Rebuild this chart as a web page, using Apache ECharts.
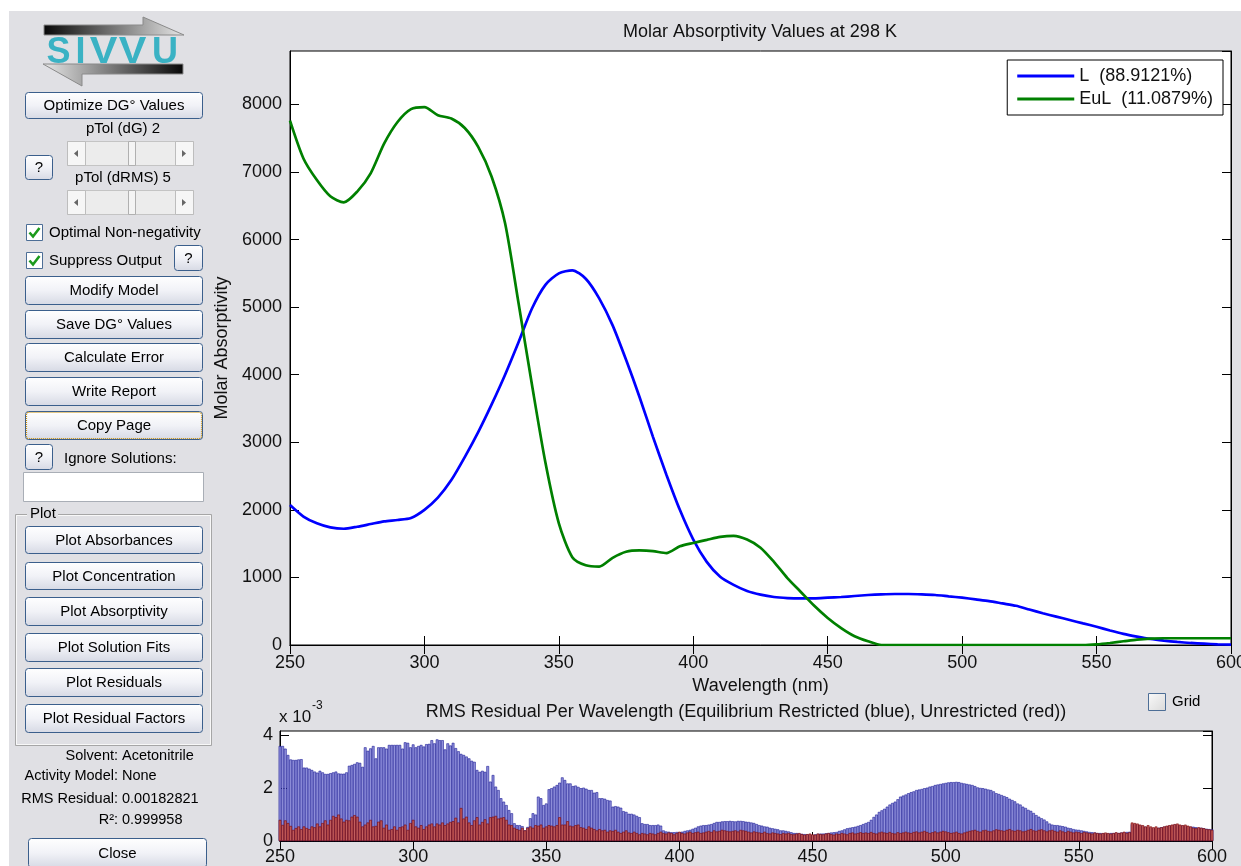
<!DOCTYPE html>
<html><head><meta charset="utf-8">
<script src="https://cdn.jsdelivr.net/npm/echarts@6/dist/echarts.min.js"></script>
<style>html,body{margin:0;padding:0;background:#fff}#c{width:1241px;height:866px}</style>
</head><body><div id="c"></div>
<script>
// ---------- DATA ----------
const lineStart = 250, lineStep = 5;          // wavelength grid of the absorptivity curves (nm)
const absL = [2070,1900,1800,1740,1720,1750,1790,1830,1850,1880,
  2000,2180,2440,2780,3150,3560,4000,4480,4980,5330,
  5500,5545,5420,5130,4730,4220,3670,3080,2520,2000,
  1560,1230,1010,890,800,745,710,695,690,690,
  700,710,725,740,750,755,755,750,740,720,
  700,675,650,615,580,525,470,420,370,320,
  270,215,165,125,90,65,45,30,20,10,5];
const absEuL = [7760,7200,6880,6640,6550,6710,6980,7420,7740,7930,
  7960,7840,7790,7650,7370,6930,6240,5060,3850,2700,
  1800,1300,1180,1160,1290,1380,1400,1390,1360,1460,
  1510,1555,1600,1615,1560,1440,1230,990,785,580,
  400,250,130,55,0,0,0,0,0,0,
  0,0,0,0,0,0,0,0,0,0,
  10,30,55,80,95,100,100,100,100,100,100];
const seriesNames = ['L  (88.9121%)', 'EuL  (11.0879%)'];

const residStart = 250, residStep = 1;        // wavelength grid of residual bars (nm)
// RMS residual, units of 10^-3
const residBlue = [
  3.6,3.6,3.5,3.26,3.09,3.07,3.07,3.09,3.1,2.78,
  2.78,2.74,2.69,2.63,2.59,2.66,2.6,2.54,2.54,2.57,
  2.6,2.63,2.56,2.55,2.55,2.6,2.85,2.88,2.92,2.98,
  2.96,2.81,3.55,3.42,3.51,3.6,3.13,3.55,3.55,3.55,
  3.5,3.64,3.64,3.64,3.64,3.64,3.5,3.74,3.72,3.55,
  3.66,3.55,3.6,3.64,3.58,3.67,3.68,3.82,3.7,3.85,
  3.82,3.82,3.47,3.7,3.62,3.72,3.52,3.4,3.3,3.26,
  3.2,3.13,3.04,3.0,2.69,2.62,2.66,2.62,2.84,2.25,
  2.5,2.06,1.93,1.62,1.49,1.36,1.17,1.05,0.67,0.6,
  0.6,0.56,0.4,0.53,0.86,1.05,1.0,1.68,1.62,1.36,
  1.42,1.96,2.0,2.06,2.12,2.21,2.41,2.31,2.18,2.18,
  2.08,2.1,2.05,2.0,2.02,1.98,1.93,1.93,1.83,1.85,
  1.62,1.62,1.6,1.55,1.53,1.3,1.32,1.3,1.26,1.13,
  1.1,1.03,1.03,1.0,0.95,0.9,0.67,0.64,0.64,0.6,
  0.6,0.6,0.62,0.58,0.4,0.36,0.35,0.33,0.33,0.34,
  0.33,0.35,0.38,0.4,0.42,0.46,0.5,0.55,0.58,0.6,
  0.6,0.62,0.64,0.68,0.72,0.72,0.74,0.75,0.75,0.76,
  0.75,0.74,0.76,0.76,0.75,0.73,0.72,0.7,0.68,0.64,
  0.6,0.58,0.55,0.54,0.5,0.48,0.46,0.44,0.4,0.4,
  0.38,0.36,0.33,0.3,0.3,0.28,0.27,0.26,0.25,0.24,
  0.22,0.25,0.27,0.28,0.28,0.29,0.3,0.32,0.33,0.34,
  0.38,0.4,0.44,0.48,0.5,0.52,0.54,0.57,0.6,0.64,
  0.68,0.72,0.8,0.91,1.0,1.1,1.16,1.22,1.3,1.38,
  1.44,1.49,1.58,1.68,1.72,1.76,1.81,1.85,1.88,1.93,
  1.95,1.97,2.0,2.02,2.06,2.08,2.12,2.14,2.16,2.18,
  2.2,2.22,2.23,2.23,2.24,2.23,2.2,2.18,2.16,2.14,
  2.12,2.08,2.03,2.01,2.0,1.98,1.95,1.93,1.88,1.81,
  1.78,1.74,1.7,1.66,1.6,1.55,1.5,1.42,1.38,1.3,
  1.25,1.18,1.14,1.06,0.98,0.92,0.86,0.81,0.74,0.66,
  0.62,0.6,0.6,0.58,0.56,0.54,0.5,0.48,0.45,0.43,
  0.42,0.4,0.38,0.36,0.34,0.33,0.32,0.3,0.3,0.29,
  0.28,0.28,0.3,0.3,0.31,0.3,0.32,0.33,0.34,0.35,
  0.64,0.64,0.62,0.6,0.56,0.54,0.52,0.5,0.48,0.5,
  0.5,0.52,0.54,0.56,0.58,0.6,0.62,0.6,0.6,0.58,
  0.56,0.55,0.54,0.54,0.52,0.5,0.5,0.48,0.46,0.45,
  0.44];
const residRed = [
  0.8,0.61,0.78,0.68,0.57,0.42,0.49,0.55,0.45,0.55,
  0.49,0.45,0.55,0.52,0.66,0.55,0.68,0.78,0.62,0.8,
  0.95,0.9,1.0,0.85,0.73,0.8,0.78,0.92,0.98,0.92,
  0.73,0.55,0.62,0.7,0.8,0.55,0.57,0.73,0.78,0.5,
  0.62,0.42,0.45,0.55,0.42,0.52,0.55,0.62,0.42,0.68,
  0.8,0.55,0.5,0.6,0.45,0.55,0.62,0.66,0.55,0.66,
  0.62,0.7,0.6,0.66,0.72,0.75,0.88,0.7,1.25,0.85,
  0.92,0.7,0.6,0.78,0.9,0.62,0.72,0.82,0.66,0.9,
  0.92,0.95,0.85,0.88,0.9,0.8,0.62,0.6,0.5,0.45,
  0.42,0.5,0.4,0.5,0.55,0.5,0.6,0.58,0.62,0.5,
  0.55,0.6,0.58,0.55,0.6,0.9,0.62,0.62,0.75,0.58,
  0.55,0.6,0.62,0.52,0.5,0.45,0.55,0.5,0.45,0.4,
  0.45,0.4,0.42,0.35,0.4,0.38,0.42,0.35,0.3,0.35,
  0.4,0.32,0.3,0.35,0.3,0.25,0.3,0.28,0.25,0.3,
  0.28,0.25,0.3,0.35,0.3,0.28,0.32,0.3,0.25,0.3,
  0.35,0.3,0.28,0.32,0.35,0.3,0.33,0.35,0.3,0.32,
  0.35,0.38,0.34,0.4,0.36,0.38,0.42,0.4,0.38,0.36,
  0.38,0.4,0.36,0.42,0.4,0.38,0.35,0.32,0.36,0.34,
  0.32,0.3,0.35,0.3,0.28,0.32,0.3,0.28,0.26,0.3,
  0.28,0.3,0.26,0.25,0.28,0.3,0.26,0.24,0.26,0.28,
  0.25,0.24,0.28,0.26,0.25,0.28,0.3,0.26,0.24,0.28,
  0.26,0.3,0.28,0.25,0.3,0.32,0.28,0.3,0.33,0.3,
  0.32,0.3,0.34,0.3,0.28,0.32,0.35,0.32,0.3,0.34,
  0.3,0.28,0.33,0.3,0.32,0.35,0.32,0.3,0.34,0.36,
  0.32,0.35,0.38,0.34,0.3,0.33,0.36,0.32,0.35,0.38,
  0.36,0.33,0.3,0.32,0.35,0.3,0.28,0.32,0.35,0.38,
  0.4,0.42,0.38,0.35,0.4,0.42,0.38,0.36,0.4,0.44,
  0.42,0.4,0.38,0.42,0.45,0.4,0.38,0.42,0.4,0.36,
  0.38,0.42,0.45,0.4,0.38,0.42,0.44,0.4,0.36,0.4,
  0.42,0.38,0.35,0.4,0.36,0.33,0.38,0.35,0.32,0.35,
  0.33,0.3,0.34,0.32,0.3,0.28,0.32,0.3,0.28,0.3,
  0.32,0.3,0.28,0.3,0.33,0.3,0.32,0.35,0.3,0.33,
  0.7,0.68,0.66,0.62,0.6,0.55,0.6,0.55,0.52,0.55,
  0.5,0.52,0.55,0.58,0.6,0.62,0.64,0.66,0.62,0.6,
  0.62,0.58,0.55,0.5,0.48,0.52,0.5,0.48,0.45,0.44,
  0.42];

const xTicks = {min: 250, max: 600, step: 50};
const absTicks = {min: 0, max: 8790, step: 1000};
const residTicks = {min: 0, max: 4.17, step: 2};

const panelButtons = [
  ['Optimize DG° Values', 25, 92, 177, 26],
  ['Modify Model', 25, 276, 177, 28],
  ['Save DG° Values', 25, 310, 177, 28],
  ['Calculate Error', 25, 343, 177, 28],
  ['Write Report', 25, 377, 177, 28],
  ['Copy Page', 25, 411, 177, 28],
  ['Plot Absorbances', 25, 526, 177, 27],
  ['Plot Concentration', 25, 562, 177, 27],
  ['Plot Absorptivity', 25, 597, 177, 28],
  ['Plot Solution Fits', 25, 633, 177, 28],
  ['Plot Residuals', 25, 668, 177, 28],
  ['Plot Residual Factors', 25, 704, 177, 28],
  ['Close', 28, 838, 178, 29]
];
const infoLabels = [['Solvent:', 'Acetonitrile', 756], ['Activity Model:', 'None', 776], ['RMS Residual:', '0.00182821', 799], ['R²:', '0.999958', 820]];

// ---------- BUILD ----------
const FF = '"Liberation Sans", Arial, Helvetica, sans-serif';
const font = (s, w) => (w ? w + ' ' : '') + s + 'px ' + FF;
const G = [];
G.push({type:'rect', shape:{x:0,y:0,width:1241,height:11}, style:{fill:'#fff'}});
G.push({type:'rect', shape:{x:0,y:0,width:9,height:866}, style:{fill:'#fff'}});

// logo
G.push({type:'polygon', shape:{points:[[44,25],[143,25],[143,17],[184,35],[44,35]]},
  style:{fill:{type:'linear',x:0,y:0,x2:1,y2:0,colorStops:[{offset:0,color:'#080808'},{offset:0.6,color:'#8c8c8c'},{offset:1,color:'#e8e8e8'}]}, stroke:'#8a8a8a', lineWidth:1}});
G.push({type:'polygon', shape:{points:[[43,64],[183,64],[183,74],[82,74],[82,86]]},
  style:{fill:{type:'linear',x:0,y:0,x2:1,y2:0,colorStops:[{offset:0,color:'#e8e8e8'},{offset:0.4,color:'#8c8c8c'},{offset:1,color:'#080808'}]}, stroke:'#8a8a8a', lineWidth:1}});
[['S',58.5,1],['I',80.5,1],['V',103.5,1.15],['V',132.5,1.15],['U',165,1]].forEach(l => {
  G.push({type:'text', x:l[1], y:53, scaleX:l[2], style:{text:l[0], x:0, y:0, align:'center', verticalAlign:'middle', font:font(36,'bold'), fill:'#3ab2c4'}});
});

const btnFill = {type:'linear',x:0,y:0,x2:0,y2:1,colorStops:[{offset:0,color:'#ffffff'},{offset:0.5,color:'#f1f2f7'},{offset:1,color:'#d6d9e4'}]};
function button(label, x, y, w, h, stroke) {
  G.push({type:'rect', shape:{x:x+0.5,y:y+0.5,width:w,height:h,r:3}, style:{fill:btnFill, stroke:stroke || '#3b5f8c', lineWidth:1}});
  G.push({type:'text', style:{text:label, x:x+w/2+0.5, y:y+h/2+1, align:'center', verticalAlign:'middle', font:font(15), fill:'#000'}});
}
panelButtons.forEach(b => button(b[0], b[1], b[2], b[3], b[4]));
button('?', 25, 155, 27, 24);
button('?', 174, 245, 28, 25);
button('?', 25, 444, 27, 25);
// focus rectangle on Copy Page
G.push({type:'rect', shape:{x:26.5,y:412.5,width:175,height:26,r:2}, style:{fill:null, stroke:'#c8900c', lineWidth:1.2, lineDash:[1,1]}});

// sliders
function slider(y) {
  const x = 67, w = 126, h = 24;
  G.push({type:'rect', shape:{x:x+0.5,y:y+0.5,width:w,height:h}, style:{fill:'#ececec', stroke:'#c4c4c4'}});
  G.push({type:'rect', shape:{x:x+0.5,y:y+0.5,width:18,height:h}, style:{fill:'#f6f6f6', stroke:'#bdbdbd'}});
  G.push({type:'rect', shape:{x:x+w-17.5,y:y+0.5,width:18,height:h}, style:{fill:'#f6f6f6', stroke:'#bdbdbd'}});
  G.push({type:'polygon', shape:{points:[[x+7,y+12.5],[x+11,y+9],[x+11,y+16]]}, style:{fill:'#666'}});
  G.push({type:'polygon', shape:{points:[[x+w-7,y+12.5],[x+w-11,y+9],[x+w-11,y+16]]}, style:{fill:'#666'}});
  G.push({type:'rect', shape:{x:128.5,y:y+0.5,width:7,height:h}, style:{fill:'#f4f4f4', stroke:'#b0b0b0'}});
}
G.push({type:'text', style:{text:'pTol (dG) 2', x:123, y:129, align:'center', verticalAlign:'middle', font:font(15), fill:'#000'}});
slider(141);
G.push({type:'text', style:{text:'pTol (dRMS) 5', x:123, y:178, align:'center', verticalAlign:'middle', font:font(15), fill:'#000'}});
slider(190);

// checkboxes
function checkbox(x, y, label) {
  G.push({type:'rect', shape:{x:x+0.5,y:y+0.5,width:16,height:16}, style:{fill:'#fff', stroke:'#4d6e96'}});
  G.push({type:'polyline', shape:{points:[[x+3.5,y+8.5],[x+7,y+12.5],[x+13.5,y+4]]}, style:{stroke:'#1c9a1c', lineWidth:2.6, fill:null}});
  G.push({type:'text', style:{text:label, x:x+23, y:y+9, align:'left', verticalAlign:'middle', font:font(15), fill:'#000'}});
}
checkbox(26, 224, 'Optimal Non-negativity');
checkbox(26, 252, 'Suppress Output');

G.push({type:'text', style:{text:'Ignore Solutions:', x:64, y:459, align:'left', verticalAlign:'middle', font:font(15), fill:'#000'}});
G.push({type:'rect', shape:{x:23.5,y:472.5,width:180,height:29}, style:{fill:'#fff', stroke:'#a9aeb6'}});

// Plot group box
G.push({type:'rect', shape:{x:15.5,y:514.5,width:196,height:231}, style:{fill:null, stroke:'#a6a6a6'}});
G.push({type:'rect', shape:{x:16.5,y:515.5,width:194,height:229}, style:{fill:null, stroke:'#f8f8f8'}});
G.push({type:'rect', shape:{x:27,y:506,width:31,height:16}, style:{fill:'#e0e0e4'}});
G.push({type:'text', style:{text:'Plot', x:30, y:514, align:'left', verticalAlign:'middle', font:font(15), fill:'#000'}});

infoLabels.forEach(r => {
  G.push({type:'text', style:{text:r[0], x:118, y:r[2], align:'right', verticalAlign:'middle', font:font(14.5), fill:'#000'}});
  G.push({type:'text', style:{text:r[1], x:122, y:r[2], align:'left', verticalAlign:'middle', font:font(14.5), fill:'#000'}});
});

// Grid checkbox
G.push({type:'rect', shape:{x:1148.5,y:693.5,width:17,height:17}, style:{fill:{type:'linear',x:0,y:0,x2:1,y2:1,colorStops:[{offset:0,color:'#fafafa'},{offset:1,color:'#d9d9d9'}]}, stroke:'#4d6e96'}});
G.push({type:'text', style:{text:'Grid', x:1172, y:702, align:'left', verticalAlign:'middle', font:font(15), fill:'#000'}});
// x 10^-3
G.push({type:'text', style:{text:'x 10', x:279, y:717, align:'left', verticalAlign:'middle', font:font(17), fill:'#111'}});
G.push({type:'text', style:{text:'-3', x:312, y:706, align:'left', verticalAlign:'middle', font:font(12), fill:'#111'}});

// ---------- CHART ----------
const lineData = arr => arr.map((v, i) => [lineStart + i * lineStep, v]);
const barData = arr => arr.map((v, i) => [residStart + i * residStep, v]);
const plain = v => String(v);

const tickStyle = {inside:true, length:9, lineStyle:{color:'#000', width:1}};
const lineAxis = {lineStyle:{color:'#000', width:1}};
const TXT = '#111';
function xAx(grid, pos, show, margin, extra) {
  return Object.assign({type:'value', gridIndex:grid, position:pos, min:xTicks.min, max:xTicks.max, interval:xTicks.step,
    axisLine:lineAxis, axisTick:tickStyle, splitLine:{show:false},
    axisLabel:{show:show, fontSize:18, color:TXT, margin:margin, fontFamily:FF, formatter:plain}}, extra || {});
}
function yAx(grid, pos, show, t, margin, extra) {
  return Object.assign({type:'value', gridIndex:grid, position:pos, min:t.min, max:t.max, interval:t.step,
    axisLine:lineAxis, axisTick:tickStyle, splitLine:{show:false},
    axisLabel:{show:show, fontSize:18, color:TXT, margin:margin, showMaxLabel:false, fontFamily:FF, formatter:plain}}, extra || {});
}

const option = {
  backgroundColor: '#e0e0e4',
  animation: false,
  textStyle: {fontFamily: FF},
  title: [
    {text:'Molar Absorptivity Values at 298 K', left:760, top:23, textAlign:'center', padding:0,
      textStyle:{fontSize:18, fontWeight:'normal', color:TXT, fontFamily:FF}},
    {text:'RMS Residual Per Wavelength (Equilibrium Restricted (blue), Unrestricted (red))', left:746, top:703, textAlign:'center', padding:0,
      textStyle:{fontSize:18, fontWeight:'normal', color:TXT, fontFamily:FF}}
  ],
  legend: {data: seriesNames, orient:'vertical', right:18, top:60, icon:'rect', itemWidth:57, itemHeight:3, itemGap:5,
    padding:[7, 10, 7, 10], backgroundColor:'#fff', borderColor:'#000', borderWidth:1, borderRadius:0,
    textStyle:{fontSize:18, color:TXT, fontFamily:FF}, selectedMode:false},
  grid: [
    {left:290, top:51, width:941, height:594, show:true, backgroundColor:'#fff', borderColor:'#000', borderWidth:1, outerBoundsMode:'none'},
    {left:280, top:731, width:932, height:110, show:true, backgroundColor:'#fff', borderColor:'#000', borderWidth:1, outerBoundsMode:'none'}
  ],
  xAxis: [
    xAx(0, 'bottom', true, 9, {name:'Wavelength (nm)', nameLocation:'middle', nameGap:32, nameTextStyle:{fontSize:18, color:TXT, fontFamily:FF}}),
    xAx(0, 'top', false, 7),
    xAx(1, 'bottom', true, 7),
    xAx(1, 'top', false, 7)
  ],
  yAxis: [
    yAx(0, 'left', true, absTicks, 8, {name:'Molar Absorptivity', nameLocation:'middle', nameGap:49, nameRotate:90, nameTextStyle:{fontSize:18, color:TXT, fontFamily:FF}}),
    yAx(0, 'right', false, absTicks, 8),
    yAx(1, 'left', true, residTicks, 7),
    yAx(1, 'right', false, residTicks, 7)
  ],
  series: [
    {name:seriesNames[0], type:'line', xAxisIndex:0, yAxisIndex:0, data:lineData(absL), showSymbol:false, smooth:0.25,
      lineStyle:{color:'#0000ff', width:2.7}, itemStyle:{color:'#0000ff'}, clip:true},
    {name:seriesNames[1], type:'line', xAxisIndex:0, yAxisIndex:0, data:lineData(absEuL), showSymbol:false, smooth:0.25,
      lineStyle:{color:'#008000', width:2.7}, itemStyle:{color:'#008000'}, clip:true},
    {name:'Equilibrium Restricted', type:'bar', xAxisIndex:2, yAxisIndex:2, data:barData(residBlue), barWidth:2.66, barGap:'-100%',
      itemStyle:{color:'#9090da', borderColor:'#00008b', borderWidth:0.5}, clip:true},
    {name:'Unrestricted', type:'bar', xAxisIndex:2, yAxisIndex:2, data:barData(residRed), barWidth:2.66, barGap:'-100%',
      itemStyle:{color:'#c46060', borderColor:'#7a0000', borderWidth:0.6}, clip:true}
  ],
  graphic: G
};
const chart = echarts.init(document.getElementById('c'), null, {renderer:'canvas'});
chart.setOption(option);
</script></body></html>
